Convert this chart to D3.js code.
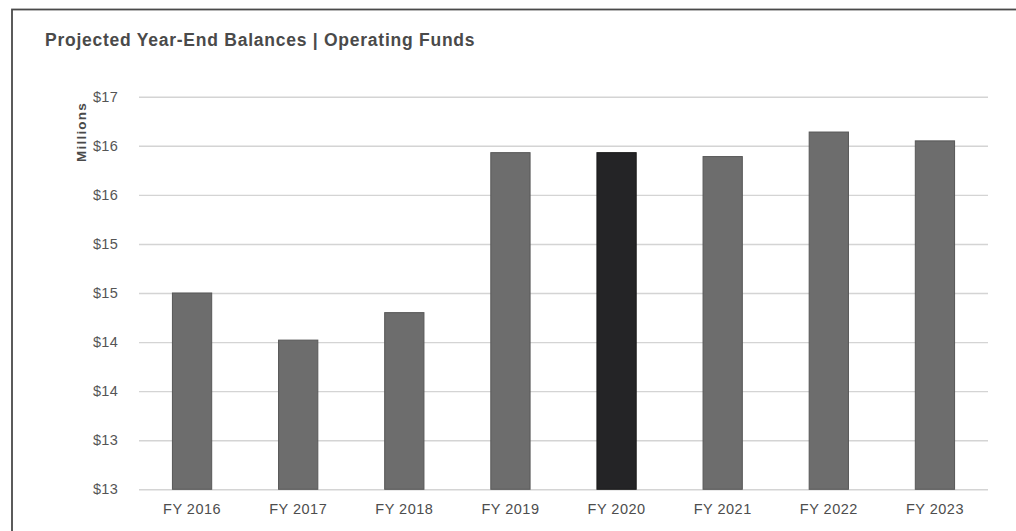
<!DOCTYPE html>
<html>
<head>
<meta charset="utf-8">
<script src="https://cdn.jsdelivr.net/npm/d3@7"></script>
<style>
  html, body { margin: 0; padding: 0; background: #ffffff; }
  svg { display: block; font-family: "Liberation Sans", Arial, Helvetica, sans-serif; }
</style>
</head>
<body>
<svg id="chart" width="1016" height="531"></svg>
<script>
// Fiscal years and projected year-end balances (millions of dollars)
const years = ["FY 2016", "FY 2017", "FY 2018", "FY 2019", "FY 2020", "FY 2021", "FY 2022", "FY 2023"];
const balances = [15.0, 14.52, 14.80, 16.43, 16.43, 16.39, 16.64, 16.55];
const currentYear = "FY 2020";

// Axis ticks every half million, labelled in whole dollars
const tickValues = [13, 13.5, 14, 14.5, 15, 15.5, 16, 16.5, 17];
const tickLabels = ["$13", "$13", "$14", "$14", "$15", "$15", "$16", "$16", "$17"];

const title = "Projected Year-End Balances | Operating Funds";
const yTitle = "Millions";

const svg = d3.select("#chart");

// Frame around the chart
svg.append("rect")
  .attr("x", 12).attr("y", 9.5)
  .attr("width", 1100).attr("height", 700)
  .attr("fill", "#ffffff")
  .attr("stroke", "#4a4a4a")
  .attr("stroke-width", 1.8);

const plot = { left: 139, right: 988, top: 96.7, bottom: 489.3 };

const x = d3.scaleBand()
  .domain(years)
  .range([plot.left, plot.right])
  .paddingInner(0.63)
  .paddingOuter(0.315);

const y = d3.scaleLinear()
  .domain([13, 17])
  .range([plot.bottom, plot.top]);

// Horizontal gridlines with dollar labels
const yAxis = d3.axisLeft(y)
  .tickValues(tickValues)
  .tickFormat((d, i) => tickLabels[i])
  .tickSize(-(plot.right - plot.left))
  .tickPadding(21);

const gy = svg.append("g")
  .attr("transform", `translate(${plot.left},0)`)
  .call(yAxis);
gy.select(".domain").remove();
gy.selectAll(".tick line")
  .attr("stroke", "#d4d4d4")
  .attr("stroke-width", 1.4);
gy.selectAll(".tick text")
  .attr("fill", "#555555")
  .style("font-size", "14.5px")
  .style("letter-spacing", "0.3px");

// Bars
svg.append("g")
  .selectAll("rect")
  .data(years)
  .join("rect")
  .attr("x", d => x(d))
  .attr("width", x.bandwidth())
  .attr("y", (d, i) => y(balances[i]))
  .attr("height", (d, i) => y(13) - y(balances[i]))
  .attr("fill", d => d === currentYear ? "#242426" : "#6d6d6d")
  .attr("stroke", d => d === currentYear ? "#1a1a1a" : "#575757")
  .attr("stroke-width", 1);

// Category labels
const xAxis = d3.axisBottom(x).tickSize(0).tickPadding(14);
const gx = svg.append("g")
  .attr("transform", `translate(0,${plot.bottom})`)
  .call(xAxis);
gx.select(".domain").remove();
gx.selectAll(".tick text")
  .attr("fill", "#4d4d4d")
  .style("font-size", "14.5px")
  .style("letter-spacing", "0.5px");

// Axis title
svg.append("text")
  .attr("transform", `translate(86,132) rotate(-90)`)
  .attr("text-anchor", "middle")
  .attr("fill", "#4a4a4a")
  .style("font-size", "13.5px")
  .style("font-weight", "bold")
  .style("letter-spacing", "1.2px")
  .text(yTitle);

// Chart title
svg.append("text")
  .attr("x", 45).attr("y", 45.5)
  .attr("fill", "#4a4a4a")
  .style("font-size", "17.5px")
  .style("font-weight", "bold")
  .style("letter-spacing", "0.75px")
  .text(title);
</script>
</body>
</html>
